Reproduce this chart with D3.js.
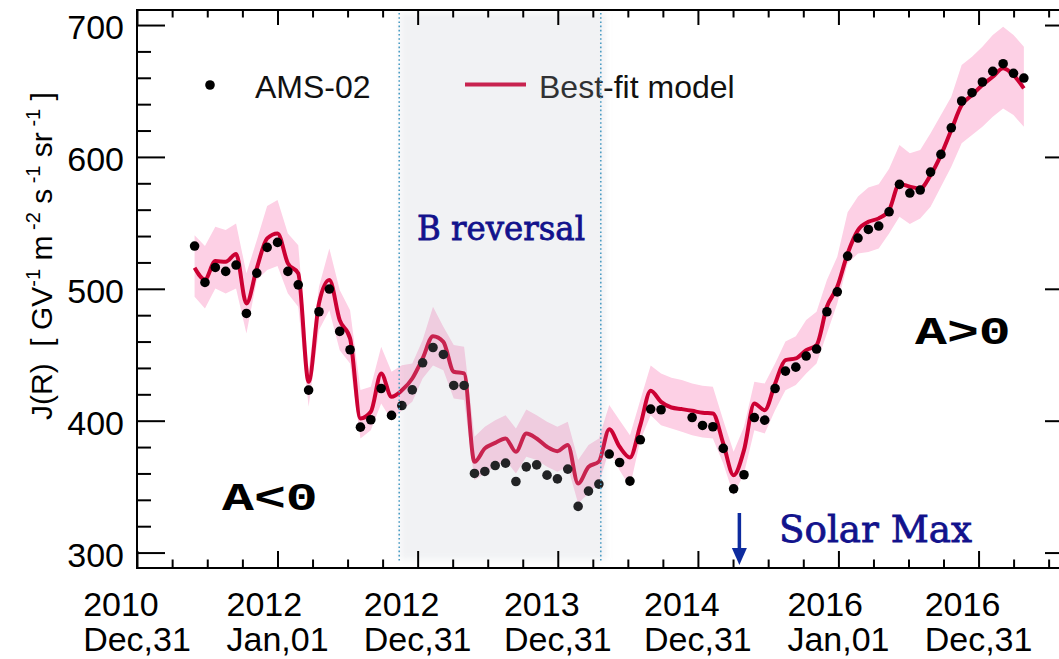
<!DOCTYPE html>
<html>
<head>
<meta charset="utf-8">
<script src="https://cdn.jsdelivr.net/npm/d3@7"></script>
<style>
  html, body { margin: 0; padding: 0; background: #fff; }
  svg { display: block; }
</style>
</head>
<body>
<svg id="chart" width="1059" height="659"></svg>
<script>
// Cosmic-ray proton flux J(R) measured by AMS-02, one value per 27-day Bartels rotation,
// with the best-fit modulation model and its uncertainty band.
const firstRotationDate = "2011-05-30";
const rotationDays = 27;

// AMS-02 flux (null where no rotation average is available)
const amsFlux = [
  532.4, 504.8, 516.2, 513.2, 518.0, 481.3, 511.9, 531.4, 535.2, 513.2,
  503.0, 423.2, 482.6, 499.8, 467.7, 453.8, 395.1, 400.7, 424.4, 404.0,
  411.5, 423.4, 443.9, 455.5, 450.2, 426.7, 426.7, 360.0, 361.5, 366.0,
  367.8, 353.9, 365.0, 366.5, 358.7, 355.9, 363.3, 335.0, 346.6, 351.9,
  374.7, 368.3, 354.2, 385.5, 408.8, 408.3, null, null, 402.4, 396.4,
  395.4, 379.0, 348.3, 359.0, 402.4, 400.4, 424.4, 437.6, 440.6, 449.0,
  454.3, 482.6, 497.7, 524.8, 538.5, 545.0, 547.6, 558.4, 579.2, 572.6,
  574.9, 588.5, 601.9, 622.1, 642.4, 648.7, 656.8, 664.9, 670.7, 663.4,
  659.8
];

// Best-fit model flux
const modelFlux = [
  516.0, 507.1, 521.0, 520.5, 526.3, 488.9, 515.5, 538.2, 542.0, 519.3,
  511.7, 429.5, 488.9, 506.6, 476.3, 462.4, 401.7, 406.7, 435.8, 418.1,
  423.0, 432.0, 447.2, 464.1, 459.8, 437.1, 435.8, 368.8, 379.0, 383.2,
  386.5, 376.4, 390.3, 386.5, 380.2, 376.9, 381.5, 352.4, 365.0, 369.0,
  393.5, 380.2, 372.1, 396.6, 422.7, 414.3, 410.0, 408.8, 407.5, 406.0,
  405.5, 382.7, 358.7, 377.7, 413.0, 408.0, 428.0, 445.9, 447.2, 453.5,
  457.3, 486.4, 501.5, 526.8, 544.5, 550.8, 553.4, 559.7, 579.5, 577.4,
  576.1, 586.2, 601.4, 620.4, 639.3, 646.9, 654.5, 660.8, 667.2, 662.1,
  652.0
];

// Model uncertainty band
const modelUpper = [
  540.7, 532.4, 547.0, 544.5, 549.6, 511.7, 536.9, 562.7, 567.3, 542.0,
  533.1, 438.3, 501.5, 530.6, 499.0, 483.8, 423.2, 425.7, 456.0, 437.1,
  442.0, 443.4, 461.1, 486.4, 471.2, 457.3, 456.0, 387.8, 395.4, 400.4,
  404.2, 394.1, 408.5, 404.2, 399.1, 395.4, 399.1, 370.1, 381.5, 386.5,
  411.8, 400.4, 389.0, 415.6, 441.9, 435.8, 432.5, 430.8, 428.2, 426.4,
  425.7, 400.4, 376.4, 395.4, 429.5, 428.2, 443.4, 460.0, 464.0, 476.3,
  482.6, 506.6, 524.3, 558.0, 570.0, 576.8, 579.3, 591.0, 609.0, 602.7,
  605.2, 617.9, 631.7, 645.6, 669.7, 676.0, 683.6, 692.4, 698.7, 692.4,
  683.6
];
const modelLower = [
  494.0, 485.1, 500.3, 496.5, 500.3, 466.2, 506.6, 514.2, 517.2, 496.5,
  486.4, 410.5, 468.7, 483.8, 453.5, 443.4, 386.5, 392.8, 413.0, 400.4,
  408.0, 414.3, 432.0, 441.9, 438.3, 416.8, 415.6, 354.9, 360.0, 365.0,
  370.1, 360.0, 372.6, 370.1, 365.0, 361.3, 365.0, 337.2, 344.8, 352.4,
  377.7, 362.5, 349.8, 385.2, 404.2, 396.6, 394.1, 391.6, 389.0, 387.3,
  386.5, 367.6, 343.5, 360.0, 392.8, 390.3, 408.0, 423.0, 427.0, 435.8,
  443.4, 466.2, 488.9, 519.3, 526.8, 528.0, 530.6, 542.0, 554.6, 549.1,
  553.4, 562.2, 577.4, 592.5, 610.3, 616.6, 622.9, 630.5, 636.8, 631.7,
  622.9
];

// Axes
const timeDomain = ["2010-12-31", "2017-09-03"];
const yearTickDates = ["2010-12-31", "2012-01-01", "2012-12-31", "2013-12-31",
                       "2014-12-31", "2016-01-01", "2016-12-31"];
const yearTickLabels = [["2010", "Dec,31"], ["2012", "Jan,01"], ["2012", "Dec,31"],
                        ["2013", "Dec,31"], ["2014", "Dec,31"], ["2016", "Jan,01"],
                        ["2016", "Dec,31"]];
const fluxDomain = [288.3, 711.4];
const fluxTicks = [300, 400, 500, 600, 700];
const fluxMinorTicks = [300, 320, 340, 360, 380, 400, 420, 440, 460, 480, 500, 520,
                        540, 560, 580, 600, 620, 640, 660, 680, 700];

// Annotations
const reversalPeriod = ["2012-11-13", "2014-04-22"];
const solarMaxDate = "2015-04-18";

const parse = d3.utcParse("%Y-%m-%d");
const SANS = "'Liberation Sans', Arial, Helvetica, sans-serif";
const SERIF = "'DejaVu Serif', serif";
const MONO = "'Liberation Mono', 'Courier New', monospace";

const plotL = 137, plotR = 1073, plotT = 10, plotB = 568;

const svg = d3.select("#chart");

const x = d3.scaleUtc()
  .domain(timeDomain.map(parse))
  .range([plotL, plotR]);
const y = d3.scaleLinear()
  .domain(fluxDomain)
  .range([plotB, plotT]);

const rotationDate = i => d3.utcDay.offset(parse(firstRotationDate), i * rotationDays);
const rows = modelFlux.map((m, i) => ({
  date: rotationDate(i),
  ams: amsFlux[i],
  model: m,
  hi: modelUpper[i],
  lo: modelLower[i]
}));

// uncertainty band
svg.append("path")
  .datum(rows)
  .attr("fill", "#fdd0e5")
  .attr("stroke", "none")
  .attr("d", d3.area()
    .x(d => x(d.date))
    .y0(d => y(d.lo))
    .y1(d => y(d.hi)));

// model curve
svg.append("path")
  .datum(rows)
  .attr("fill", "none")
  .attr("stroke", "#cc0033")
  .attr("stroke-width", 4)
  .attr("stroke-linejoin", "round")
  .attr("d", d3.line()
    .x(d => x(d.date))
    .y(d => y(d.model))
    .curve(d3.curveMonotoneX));

// measurements
svg.append("g")
  .selectAll("circle")
  .data(rows.filter(d => d.ams != null))
  .join("circle")
  .attr("cx", d => x(d.date))
  .attr("cy", d => y(d.ams))
  .attr("r", 4.8)
  .attr("fill", "#000");

// legend
const legend = svg.append("g").attr("font-family", SANS).attr("font-size", 32);
legend.append("circle").attr("cx", 210).attr("cy", 85).attr("r", 4.8).attr("fill", "#000");
legend.append("text").attr("x", 255).attr("y", 98).attr("fill", "#111").text("AMS-02");
legend.append("line")
  .attr("x1", 465).attr("x2", 526).attr("y1", 84.5).attr("y2", 84.5)
  .attr("stroke", "#cc0033").attr("stroke-width", 4);
legend.append("text").attr("x", 539).attr("y", 98).attr("fill", "#111").text("Best-fit model");

// field reversal period
const defs = svg.append("defs");
defs.append("filter")
  .attr("id", "soft")
  .attr("x", "-10%").attr("y", "-5%").attr("width", "120%").attr("height", "110%")
  .append("feGaussianBlur").attr("stdDeviation", 3);

const rx0 = x(parse(reversalPeriod[0])), rx1 = x(parse(reversalPeriod[1]));
svg.append("rect")
  .attr("x", rx0 + 1).attr("y", 13)
  .attr("width", rx1 - rx0 + 4).attr("height", 547)
  .attr("fill", "rgb(181,187,197)")
  .attr("fill-opacity", 0.19)
  .attr("filter", "url(#soft)");

svg.append("g")
  .selectAll("line")
  .data(reversalPeriod)
  .join("line")
  .attr("x1", d => x(parse(d))).attr("x2", d => x(parse(d)))
  .attr("y1", 13).attr("y2", 562)
  .attr("stroke", "#4b9cc3")
  .attr("stroke-width", 1.6)
  .attr("stroke-dasharray", "1.6,2.6");

// annotation labels in a slab serif, slightly emboldened
svg.append("text")
  .attr("x", 417).attr("y", 239.5)
  .attr("font-family", SERIF).attr("font-size", 34)
  .attr("textLength", 168).attr("lengthAdjust", "spacingAndGlyphs")
  .attr("fill", "#12128c").attr("stroke", "#12128c").attr("stroke-width", 0.8)
  .text("B reversal");

// solar maximum marker
const sx = x(parse(solarMaxDate));
svg.append("line")
  .attr("x1", sx).attr("x2", sx).attr("y1", 513).attr("y2", 551)
  .attr("stroke", "#0d2b9e").attr("stroke-width", 3.5);
svg.append("path")
  .attr("d", `M${sx - 7.5},548 L${sx + 7.5},548 L${sx},565 Z`)
  .attr("fill", "#0d2b9e");
svg.append("text")
  .attr("x", 779).attr("y", 542)
  .attr("font-family", SERIF).attr("font-size", 38)
  .attr("textLength", 193).attr("lengthAdjust", "spacingAndGlyphs")
  .attr("fill", "#12128c").attr("stroke", "#12128c").attr("stroke-width", 0.8)
  .text("Solar Max");

// heliospheric polarity labels
const polarity = [
  { text: "A<0", x: 222, y: 510 },
  { text: "A>0", x: 915, y: 344 }
];
svg.append("g")
  .selectAll("text")
  .data(polarity)
  .join("text")
  .attr("transform", d => `translate(${d.x},${d.y}) scale(1.4,1)`)
  .attr("font-family", MONO).attr("font-weight", "bold").attr("font-size", 38)
  .attr("fill", "#000")
  .text(d => d.text);

// axes
const majorDates = yearTickDates.map(parse);
const minorDates = [];
for (let i = 0; i < majorDates.length; i++) {
  const a = majorDates[i];
  const b = i + 1 < majorDates.length ? majorDates[i + 1] : d3.utcDay.offset(a, 365);
  for (let k = 1; k < 4; k++) {
    const t = new Date(+a + (b - a) * k / 4);
    if (t <= x.domain()[1]) minorDates.push(t);
  }
}

function cleanAxis(g) {
  g.select(".domain").remove();
  g.selectAll(".tick line").attr("stroke", "#000").attr("stroke-width", 2);
}

svg.append("g").attr("transform", `translate(0,${plotB})`)
  .call(d3.axisBottom(x).tickValues(majorDates).tickSize(-17).tickFormat(""))
  .call(cleanAxis);
svg.append("g").attr("transform", `translate(0,${plotB})`)
  .call(d3.axisBottom(x).tickValues(minorDates).tickSize(-8.5).tickFormat(""))
  .call(cleanAxis);
svg.append("g").attr("transform", `translate(0,${plotT})`)
  .call(d3.axisTop(x).tickValues(majorDates).tickSize(-15).tickFormat(""))
  .call(cleanAxis);
svg.append("g").attr("transform", `translate(0,${plotT})`)
  .call(d3.axisTop(x).tickValues(minorDates).tickSize(-7.5).tickFormat(""))
  .call(cleanAxis);

const yMinor = fluxMinorTicks.filter(v => fluxTicks.indexOf(v) < 0);
svg.append("g").attr("transform", `translate(${plotL},0)`)
  .call(d3.axisLeft(y).tickValues(yMinor).tickSize(-14).tickFormat(""))
  .call(cleanAxis);
svg.append("g").attr("transform", `translate(${plotR},0)`)
  .call(d3.axisRight(y).tickValues(yMinor).tickSize(-14).tickFormat(""))
  .call(cleanAxis);
svg.append("g").attr("transform", `translate(${plotR},0)`)
  .call(d3.axisRight(y).tickValues(fluxTicks).tickSize(-28).tickFormat(""))
  .call(cleanAxis);

const yAxis = svg.append("g").attr("transform", `translate(${plotL},0)`)
  .call(d3.axisLeft(y).tickValues(fluxTicks).tickSize(-28).tickPadding(13).tickFormat(d3.format("d")))
  .call(cleanAxis);
yAxis.selectAll(".tick text")
  .attr("font-family", SANS).attr("font-size", 34).attr("fill", "#000")
  .attr("dy", "0.4em");

// frame
svg.append("rect")
  .attr("x", plotL).attr("y", plotT)
  .attr("width", plotR - plotL).attr("height", plotB - plotT)
  .attr("fill", "none").attr("stroke", "#000").attr("stroke-width", 2);

// two-line date labels, left-aligned lines centred as a block on the tick
const xLabels = svg.append("g")
  .attr("font-family", SANS).attr("font-size", 34).attr("fill", "#000");
majorDates.forEach((d, i) => {
  const t = xLabels.append("text").attr("transform", `translate(${x(d)},0)`);
  const l1 = t.append("tspan").attr("y", 616).text(yearTickLabels[i][0]);
  const l2 = t.append("tspan").attr("y", 651).text(yearTickLabels[i][1]);
  const w = Math.max(l1.node().getComputedTextLength(), l2.node().getComputedTextLength());
  l1.attr("x", -w / 2);
  l2.attr("x", -w / 2);
});

// y-axis title
const title = svg.append("text")
  .attr("transform", "translate(52,420) rotate(-90)")
  .attr("font-family", SANS).attr("font-size", 30).attr("fill", "#000")
  .style("white-space", "pre");
const titleParts = [
  ["J(R)  [ GV", false], ["-1", true], [" m", false], [" -2", true],
  [" s", false], [" -1", true], [" sr", false], [" -1", true], [" ]", false]
];
let raised = false;
titleParts.forEach(([s, sup]) => {
  const ts = title.append("tspan").text(s);
  if (sup && !raised) { ts.attr("dy", -12).attr("font-size", 20); raised = true; }
  else if (sup) { ts.attr("font-size", 20); }
  else if (raised) { ts.attr("dy", 12); raised = false; }
});
</script>
</body>
</html>
